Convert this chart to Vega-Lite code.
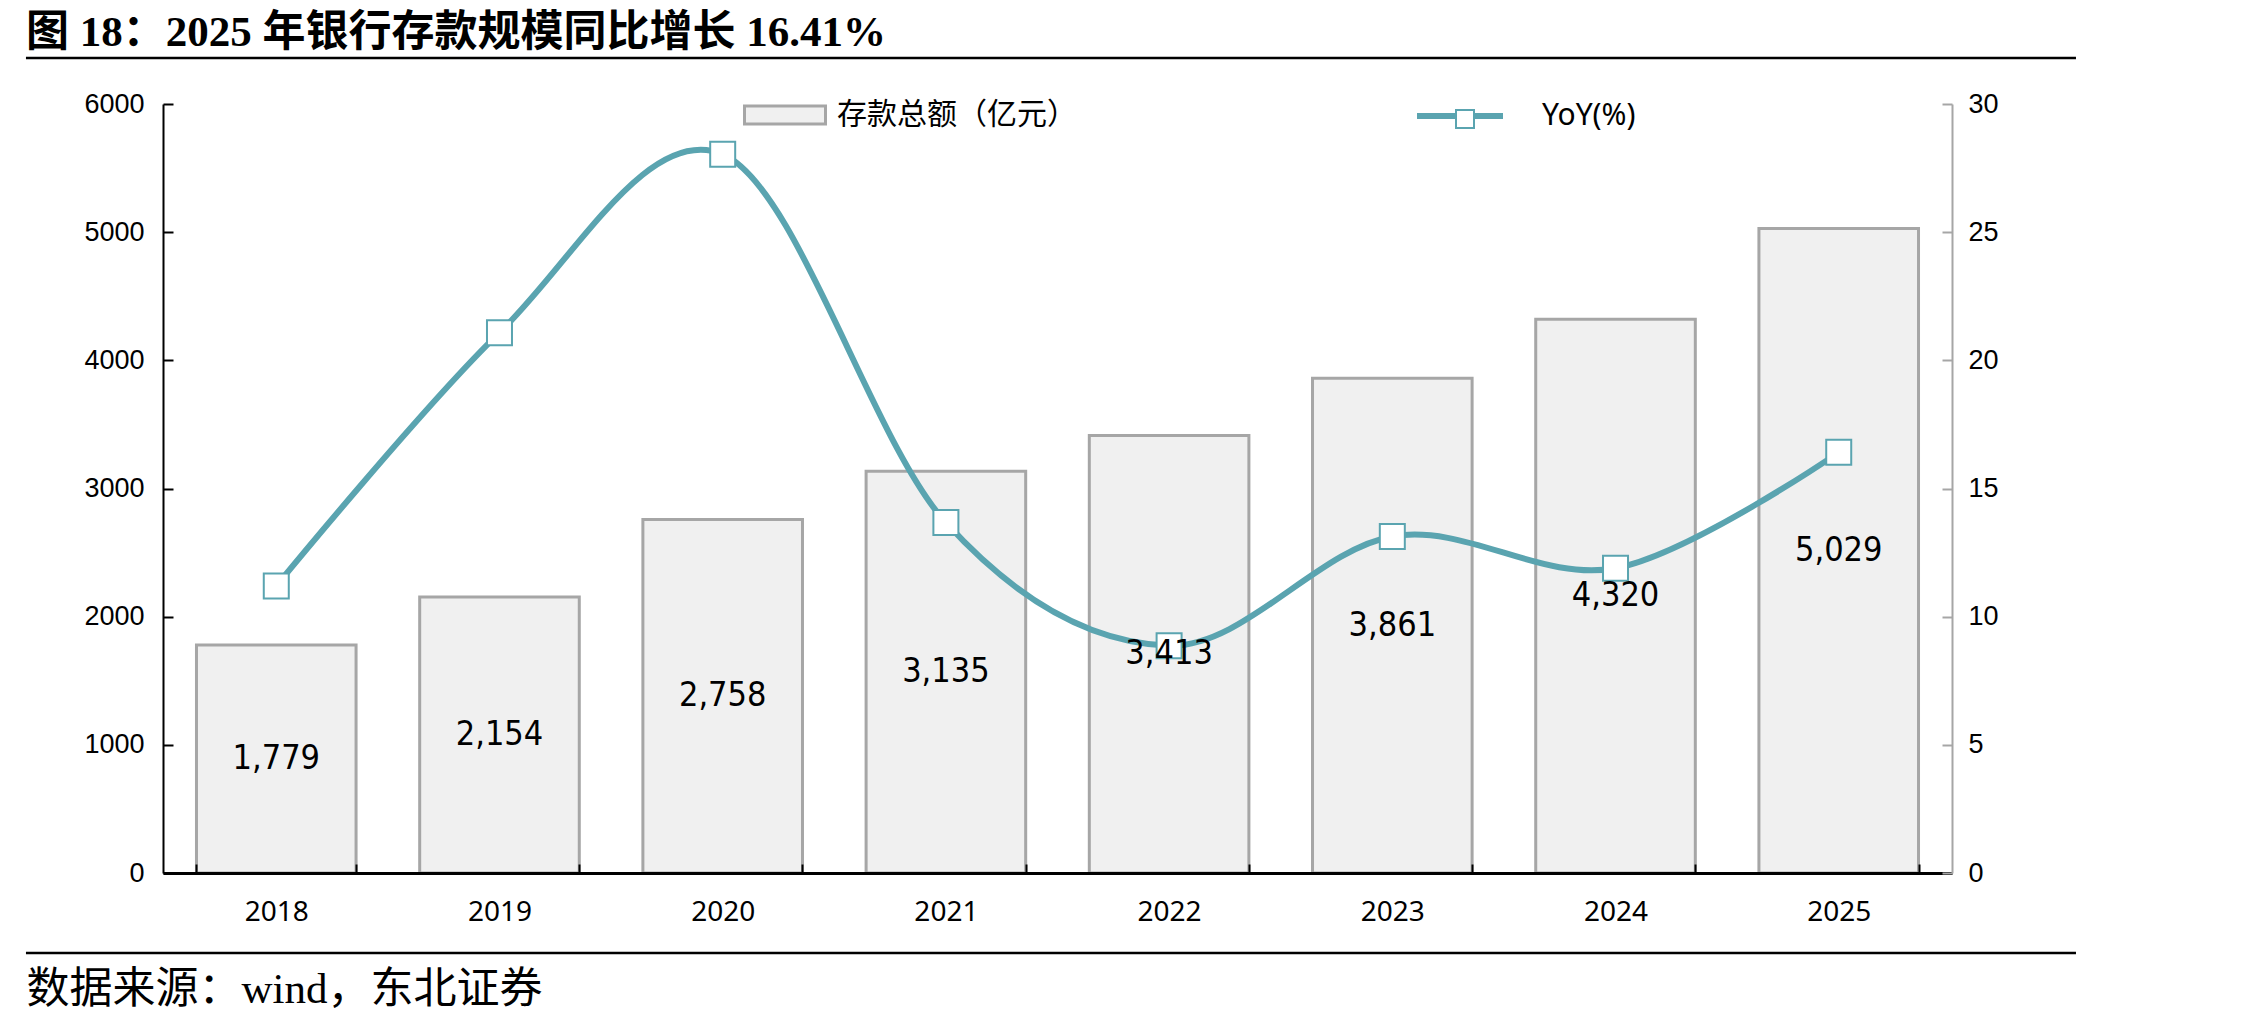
{
  "$schema": "https://vega.github.io/schema/vega-lite/v6.json",
  "autosize": "none",
  "width": 1789,
  "height": 769,
  "padding": {"left": 163, "top": 104, "right": 316, "bottom": 147},
  "background": "white",
  "title": {
    "text": "图 18：2025 年银行存款规模同比增长 16.41%",
    "anchor": "start",
    "frame": "group",
    "dx": -137,
    "offset": 2,
    "font": "Liberation Serif, Noto Sans CJK SC",
    "fontSize": 43,
    "fontWeight": "bold",
    "color": "#000000"
  },
  "config": {
    "view": {"stroke": null},
    "axis": {"grid": false, "labelColor": "#000000"}
  },
  "data": {
    "values": [
      {"year": "2018", "deposit": 1779, "yoy": 11.2},
      {"year": "2019", "deposit": 2154, "yoy": 21.08},
      {"year": "2020", "deposit": 2758, "yoy": 28.04},
      {"year": "2021", "deposit": 3135, "yoy": 13.67},
      {"year": "2022", "deposit": 3413, "yoy": 8.87},
      {"year": "2023", "deposit": 3861, "yoy": 13.13},
      {"year": "2024", "deposit": 4320, "yoy": 11.89},
      {"year": "2025", "deposit": 5029, "yoy": 16.41}
    ]
  },
  "layer": [
    {
      "mark": {"type": "bar", "stroke": "#a6a6a6", "strokeWidth": 3},
      "encoding": {
        "x": {
          "field": "year", "type": "ordinal",
          "scale": {"type": "band", "paddingInner": 0.285, "paddingOuter": 0.15},
          "axis": {
            "title": "数据来源：wind，东北证券",
            "titleFont": "Liberation Serif, Noto Sans CJK SC",
            "titleFontSize": 43,
            "titleFontWeight": "normal",
            "titleColor": "#000000",
            "titleAnchor": "start",
            "titleAlign": "left",
            "titleBaseline": "middle",
            "titleX": -137,
            "titleY": 116,
            "labelAngle": 0,
            "labelFont": "Noto Sans",
            "labelFontSize": 28,
            "labelPadding": 34,
            "domainColor": "#000000",
            "domainWidth": 3,
            "tickColor": "#000000",
            "tickWidth": 2,
            "tickSize": -9,
            "tickBand": "extent",
            "zindex": 1
          }
        },
        "y": {
          "field": "deposit", "type": "quantitative",
          "scale": {"domain": [0, 6000], "nice": false},
          "axis": {
            "title": null,
            "orient": "left",
            "values": [0, 1000, 2000, 3000, 4000, 5000, 6000],
            "format": "d",
            "labelFont": "Liberation Sans",
            "labelFontSize": 27,
            "labelPadding": 29,
            "domainColor": "#000000",
            "domainWidth": 2,
            "tickColor": "#000000",
            "tickWidth": 2,
            "tickSize": -10,
            "zindex": 1
          }
        },
        "fill": {
          "datum": "存款总额（亿元）",
          "scale": {"range": ["#f0f0f0"]},
          "legend": {
            "title": null,
            "orient": "none",
            "legendX": 580,
            "legendY": -31,
            "padding": 0,
            "symbolType": "M-1,-0.22H1V0.22H-1Z",
            "symbolSize": 6561,
            "symbolStrokeColor": "#a6a6a6",
            "symbolStrokeWidth": 3,
            "labelFont": "Noto Sans CJK SC",
            "labelFontSize": 30,
            "labelLimit": 0,
            "labelColor": "#000000",
            "labelOffset": 10
          }
        }
      }
    },
    {
      "mark": {"type": "line", "interpolate": "cardinal", "strokeWidth": 6},
      "encoding": {
        "x": {
          "field": "year", "type": "ordinal",
          "scale": {"type": "band", "paddingInner": 0.285, "paddingOuter": 0.15},
          "axis": null
        },
        "y": {
          "field": "yoy", "type": "quantitative",
          "scale": {"domain": [0, 30], "nice": false},
          "axis": {
            "title": null,
            "orient": "right",
            "values": [0, 5, 10, 15, 20, 25, 30],
            "labelFont": "Liberation Sans",
            "labelFontSize": 27,
            "labelPadding": 26,
            "domainColor": "#a6a6a6",
            "domainWidth": 2,
            "tickColor": "#a6a6a6",
            "tickWidth": 2,
            "tickSize": -10,
            "zindex": 1
          }
        },
        "stroke": {
          "datum": "YoY(%)",
          "scale": {"range": ["#5aa4b0"]},
          "legend": {
            "title": null,
            "orient": "none",
            "legendX": 1251,
            "legendY": -34,
            "padding": 0,
            "symbolType": "stroke",
            "symbolSize": 7396,
            "symbolStrokeWidth": 6,
            "labelFont": "Liberation Sans Narrow, Noto Sans",
            "labelFontSize": 30,
            "labelLimit": 0,
            "labelColor": "#000000",
            "labelOffset": 36
          }
        }
      }
    },
    {
      "mark": {"type": "point", "shape": "square", "filled": true, "stroke": "#5aa4b0", "strokeWidth": 2, "size": 625, "opacity": 1},
      "encoding": {
        "x": {
          "field": "year", "type": "ordinal",
          "scale": {"type": "band", "paddingInner": 0.285, "paddingOuter": 0.15},
          "axis": null
        },
        "y": {
          "field": "yoy", "type": "quantitative",
          "scale": {"domain": [0, 30], "nice": false},
          "axis": null
        },
        "fill": {
          "datum": "YoY(%)",
          "scale": {"range": ["#ffffff"]},
          "legend": {
            "title": null,
            "orient": "none",
            "legendX": 1287,
            "legendY": 0,
            "padding": 0,
            "symbolType": "square",
            "symbolSize": 324,
            "symbolStrokeColor": "#5aa4b0",
            "symbolStrokeWidth": 2,
            "labelExpr": "''",
            "labelFontSize": 30
          }
        }
      }
    },
    {
      "mark": {"type": "text", "font": "Liberation Sans Narrow, DejaVu Sans Condensed", "fontSize": 34, "color": "#000000", "baseline": "middle"},
      "encoding": {
        "x": {
          "field": "year", "type": "ordinal",
          "scale": {"type": "band", "paddingInner": 0.285, "paddingOuter": 0.15},
          "axis": null
        },
        "y": {
          "field": "deposit", "type": "quantitative",
          "scale": {"domain": [0, 12000], "nice": false},
          "axis": null
        },
        "text": {"field": "deposit", "type": "quantitative", "format": ","}
      }
    },
    {
      "data": {"values": [{}]},
      "mark": {"type": "rule", "color": "#000000", "strokeWidth": 2.5, "clip": false},
      "encoding": {
        "x": {"datum": -0.0766, "type": "quantitative", "scale": {"domain": [0, 1], "nice": false, "zero": false}, "axis": null},
        "x2": {"datum": 1.0693},
        "y": {"datum": 6359, "type": "quantitative", "scale": {"domain": [0, 6000], "nice": false}, "axis": null}
      }
    },
    {
      "data": {"values": [{}]},
      "mark": {"type": "rule", "color": "#000000", "strokeWidth": 2.5, "clip": false},
      "encoding": {
        "x": {"datum": -0.0766, "type": "quantitative", "scale": {"domain": [0, 1], "nice": false, "zero": false}, "axis": null},
        "x2": {"datum": 1.0693},
        "y": {"datum": -624, "type": "quantitative", "scale": {"domain": [0, 6000], "nice": false}, "axis": null}
      }
    }
  ],
  "resolve": {"scale": {"x": "independent", "y": "independent", "fill": "independent", "stroke": "independent"}}
}
